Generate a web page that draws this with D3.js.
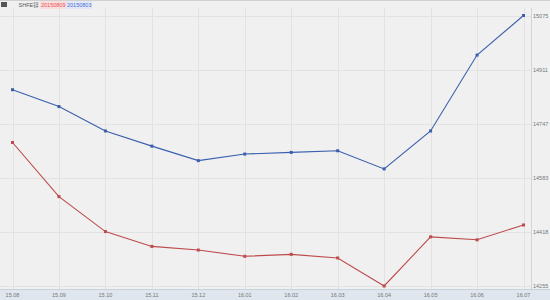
<!DOCTYPE html>
<html>
<head>
<meta charset="utf-8">
<script src="https://cdn.jsdelivr.net/npm/d3@7"></script>
<style>
  html, body { margin: 0; padding: 0; background: #f0f0f0; }
  svg { display: block; font-family: "Liberation Sans", "Noto Sans CJK SC", sans-serif; }
</style>
</head>
<body>
<div id="chart"></div>
<script>
const months = ['15.08', '15.09', '15.10', '15.11', '15.12', '16.01', '16.02', '16.03', '16.04', '16.05', '16.06', '16.07'];
const series0809 = [14690, 14526, 14420, 14375, 14364, 14345, 14351, 14340, 14255, 14404, 14395, 14440];
const series0803 = [14850, 14799, 14725, 14679, 14635, 14655, 14660, 14665, 14610, 14725, 14955, 15075];
const yTickLabels = ['14255', '14418', '14583', '14747', '14911', '15075'];
const legendTitle = 'SHFE锌';
const legendNames = ['20150809', '20150803'];

const width = 550;
const height = 300;
const red = '#bd4a4c';
const blue = '#3a5fae';

const svg = d3.select('#chart')
  .append('svg')
  .attr('width', width)
  .attr('height', height);

svg.append('rect').attr('width', width).attr('height', height).attr('fill', '#f0f0f0');

const x = d3.scalePoint().domain(months).range([12.5, 523.5]);

const allValues = series0809.concat(series0803);
const yMin = d3.min(allValues);
const yMax = d3.max(allValues);
const y = d3.scaleLinear().domain([yMin, yMax]).range([286, 15.5]);

// horizontal grid at evenly split values
const tickValues = yTickLabels.map((_, i) => yMin + i * (yMax - yMin) / (yTickLabels.length - 1));

svg.append('g')
  .selectAll('line')
  .data(tickValues)
  .join('line')
  .attr('x1', 0)
  .attr('x2', 532)
  .attr('y1', (d) => Math.round(y(d)) + 0.5)
  .attr('y2', (d) => Math.round(y(d)) + 0.5)
  .attr('stroke', '#e2e2e2');

svg.append('g')
  .selectAll('line')
  .data(months)
  .join('line')
  .attr('x1', (d) => Math.round(x(d)) + 0.5)
  .attr('x2', (d) => Math.round(x(d)) + 0.5)
  .attr('y1', 8)
  .attr('y2', 289)
  .attr('stroke', '#e2e2e2');

// right axis separator
svg.append('line')
  .attr('x1', 531.5).attr('x2', 531.5)
  .attr('y1', 8).attr('y2', 289)
  .attr('stroke', '#d4d4d4');

// top strip
svg.append('line')
  .attr('x1', 0).attr('x2', width)
  .attr('y1', 0.5).attr('y2', 0.5)
  .attr('stroke', '#d0d0d0');

// x-axis band
svg.append('rect')
  .attr('x', 0).attr('y', 289)
  .attr('width', width).attr('height', 11)
  .attr('fill', '#dfe6ee');
svg.append('line')
  .attr('x1', 0).attr('x2', width)
  .attr('y1', 289.5).attr('y2', 289.5)
  .attr('stroke', '#c8d2dc');

svg.append('g')
  .selectAll('text')
  .data(months)
  .join('text')
  .attr('x', (d) => x(d))
  .attr('y', 297)
  .attr('text-anchor', 'middle')
  .attr('font-size', 5.5)
  .attr('fill', '#777')
  .text((d) => d);

svg.append('g')
  .selectAll('text')
  .data(tickValues)
  .join('text')
  .attr('x', 533)
  .attr('y', (d) => y(d) + 2)
  .attr('font-size', 5.5)
  .attr('fill', '#777')
  .text((d, i) => yTickLabels[i]);

const line = d3.line()
  .x((d, i) => x(months[i]))
  .y((d) => y(d));

[[series0809, red], [series0803, blue]].forEach(([data, color]) => {
  svg.append('path')
    .datum(data)
    .attr('d', line)
    .attr('fill', 'none')
    .attr('stroke', color)
    .attr('stroke-width', 1.1);

  svg.append('g')
    .selectAll('rect')
    .data(data)
    .join('rect')
    .attr('x', (d, i) => x(months[i]) - 1.5)
    .attr('y', (d) => y(d) - 1.5)
    .attr('width', 3)
    .attr('height', 3)
    .attr('fill', color);
});

// legend
const legend = svg.append('g').attr('font-size', 5.5);
legend.append('rect').attr('x', 1).attr('y', 2).attr('width', 6).attr('height', 5).attr('fill', '#555');
legend.append('rect').attr('x', 40).attr('y', 1).attr('width', 26).attr('height', 8).attr('fill', '#f9dede');
legend.append('rect').attr('x', 66).attr('y', 1).attr('width', 26).attr('height', 8).attr('fill', '#e3e8f6');
legend.append('text').attr('x', 18.5).attr('y', 7).attr('fill', '#555').text(legendTitle);
legend.append('text').attr('x', 41).attr('y', 7).attr('fill', '#e85050').text(legendNames[0]);
legend.append('text').attr('x', 67).attr('y', 7).attr('fill', '#4a6fd0').text(legendNames[1]);
</script>
</body>
</html>
